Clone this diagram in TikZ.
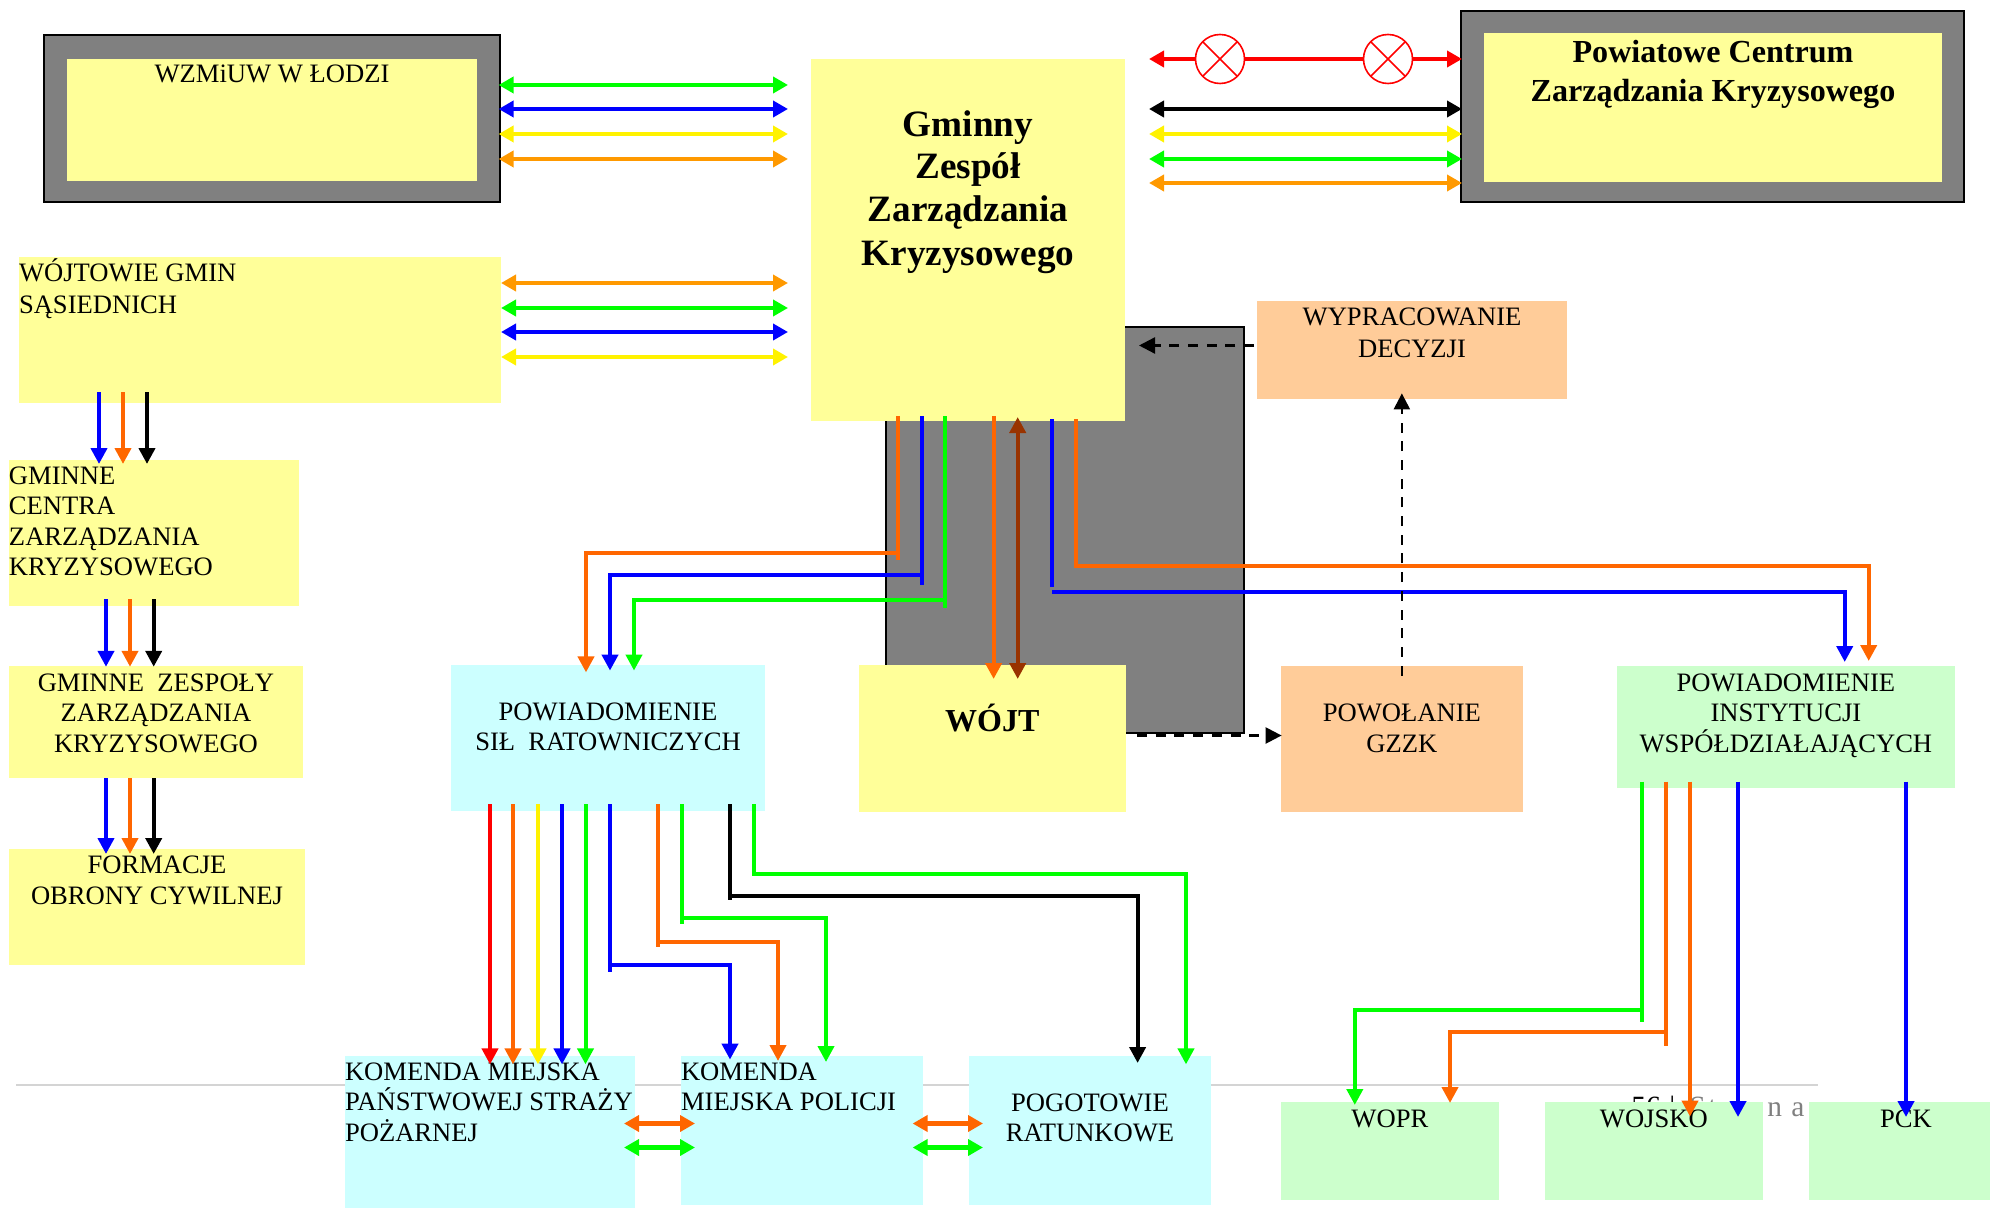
\documentclass[tikz,border=0pt]{standalone}
\usepackage{fontspec}
\setmainfont{Liberation Serif}
\usetikzlibrary{arrows.meta}
\definecolor{cY}{HTML}{FFFF99}
\definecolor{cC}{HTML}{CCFFFF}
\definecolor{cG}{HTML}{CCFFCC}
\definecolor{cP}{HTML}{FFCC99}
\definecolor{cF}{HTML}{808080}
\definecolor{cO}{HTML}{FF9900}
\definecolor{cD}{HTML}{FF6600}
\definecolor{cB}{HTML}{993300}
\definecolor{cL}{HTML}{D4D4D4}
\newcommand{\nrm}[1]{\fontsize{13.3pt}{#1pt}\selectfont}
\newcommand{\bld}[2]{\bfseries\fontsize{#1pt}{#2pt}\selectfont}
% name, x1, y1, x2, y2, fill, first baseline y, format, text
\newcommand{\bx}[9]{%
  \pgfmathsetlengthmacro{\bw}{(#4-#2)*0.5pt}%
  \pgfmathsetlengthmacro{\bh}{(#5-#3)*0.5pt}%
  \pgfmathsetlengthmacro{\bt}{(#7-#3)*0.5pt}%
  \node[anchor=north west,inner sep=0pt,outer sep=0pt,fill=#6] (#1) at (#2,#3) {%
    \vbox to \bh{\hsize=\bw\parindent=0pt\parskip=0pt #8\lineskiplimit=-\maxdimen
      \vskip\dimexpr\bt-\baselineskip\relax\prevdepth=0pt
      #9\par\vfil}};}
\newcommand{\frm}[5]{%
  \pgfmathsetlengthmacro{\bw}{(#4-#2)*0.5pt}%
  \pgfmathsetlengthmacro{\bh}{(#5-#3)*0.5pt}%
  \node[anchor=north west,inner sep=0pt,outer sep=0pt,draw=black,line width=1pt,fill=cF,minimum width=\bw,minimum height=\bh] (#1) at (#2,#3) {};}
\tikzset{
  x=0.5pt,y=-0.5pt,
  dbl/.style={line width=2.4pt,{Triangle[width=8pt,length=7.5pt]}-{Triangle[width=8pt,length=7.5pt]}},
  wire/.style={line width=2pt,-{Triangle[width=8pt,length=8pt]}},
  plain/.style={line width=2pt},
  dsh/.style={line width=1.2pt,dash pattern=on 5pt off 4.35pt,-{Triangle[width=8pt,length=8pt]}},
  lamp/.style={circle,draw=red,fill=white,line width=0.8pt,minimum size=24.5pt,inner sep=0pt,outer sep=0pt},
}
\begin{document}
\begin{tikzpicture}
\useasboundingbox (0,0) rectangle (1990,1208);
% rule and page number behind the boxes
\draw[cL,line width=1pt] (16,1084.5) -- (1818,1084.5);
\node[anchor=base west,inner sep=0pt,text=cF,font=\fontsize{14.7pt}{16pt}\selectfont] (pg) at (1631,1116.5) {\rlap{\textcolor{black}{56}}\kern19pt\rlap{\textcolor{black}{|}}\kern10pt\rlap{S}\kern9.5pt\rlap{t}\kern9pt\rlap{r}\kern9.5pt\rlap{o}\kern11pt\rlap{n}\kern12pt a};
% frames
\frm{wzmO}{44.4}{34.7}{499.6}{202}
\frm{pcoO}{1461}{11.3}{1964.3}{202}
\frm{gr}{885.6}{326.7}{1244}{733}
% boxes
\bx{wzm}{67}{59}{477}{181}{cY}{83}{\nrm{15.3}\centering}{WZMiUW W ŁODZI}
\bx{pco}{1484}{33}{1942}{182}{cY}{63}{\bld{16.05}{19.2}\centering}{Powiatowe Centrum\\Zarządzania Kryzysowego}
\bx{gz}{811}{59}{1125}{420.6}{cY}{136}{\bld{18.6}{21.5}\centering}{Gminny\\Zespół\\Zarządzania\\Kryzysowego}
\bx{woj}{19}{257}{501}{403}{cY}{281}{\nrm{16}\raggedright}{WÓJTOWIE GMIN\\SĄSIEDNICH}
\bx{cen}{9}{460}{299}{605.8}{cY}{484.5}{\nrm{15.2}\raggedright}{GMINNE\\CENTRA\\ZARZĄDZANIA\\KRYZYSOWEGO}
\bx{zes}{9}{666}{303}{778}{cY}{691}{\nrm{15.3}\centering}{GMINNE\ \ ZESPOŁY\\ZARZĄDZANIA\\KRYZYSOWEGO}
\bx{for}{9}{849}{305}{965}{cY}{873}{\nrm{15.5}\centering}{FORMACJE\\OBRONY CYWILNEJ}
\bx{sil}{451}{665}{765}{810.5}{cC}{720}{\nrm{15.4}\centering}{POWIADOMIENIE\\SIŁ\ \ RATOWNICZYCH}
\bx{wjt}{859}{665}{1125.6}{811.7}{cY}{731.8}{\bld{16}{19}\centering}{WÓJT}
\bx{wyp}{1257}{301}{1567}{399}{cP}{325.5}{\nrm{16}\centering}{WYPRACOWANIE\\DECYZJI}
\bx{pow}{1281}{666}{1522.7}{811.7}{cP}{721.5}{\nrm{15.4}\centering}{POWOŁANIE\\GZZK}
\bx{ins}{1616.8}{666}{1955}{788}{cG}{691}{\nrm{15.3}\centering}{POWIADOMIENIE\\INSTYTUCJI\\WSPÓŁDZIAŁAJĄCYCH}
\bx{psp}{345}{1056}{634.6}{1208}{cC}{1080}{\nrm{15.3}\raggedright}{KOMENDA MIEJSKA\\PAŃSTWOWEJ STRAŻY\\POŻARNEJ}
\bx{pol}{681}{1056}{923}{1205}{cC}{1080}{\nrm{15.3}\raggedright}{KOMENDA\\MIEJSKA POLICJI}
\bx{pog}{969}{1056}{1211}{1205}{cC}{1111}{\nrm{15.1}\centering}{POGOTOWIE\\RATUNKOWE}
\bx{wpr}{1281}{1102}{1498.7}{1200}{cG}{1127}{\nrm{15.3}\centering}{WOPR}
\bx{wsk}{1545}{1102}{1762.7}{1200}{cG}{1127}{\nrm{15.3}\centering}{WOJSKO}
\bx{pck}{1809}{1102}{2003}{1200}{cG}{1127}{\nrm{15.3}\centering}{PCK}
% double arrows: WZMiUW -- Gminny
\foreach \yy/\cc in {85/green,109/blue,134/yellow,159/cO}
  \draw[dbl,\cc,shorten <=-0.5pt,shorten >=11.5pt] (wzmO.east |- 0,\yy) -- (gz.west |- 0,\yy);
% double arrows: Wojtowie -- Gminny
\foreach \yy/\cc in {283/cO,308/green,332/blue,357/yellow}
  \draw[dbl,\cc,shorten >=11.5pt] (woj.east |- 0,\yy) -- (gz.west |- 0,\yy);
% double arrows: Gminny -- Powiatowe
\foreach \yy/\cc in {109/black,134/yellow,159/green,183/cO}
  \draw[dbl,\cc,shorten <=12pt,shorten >=-0.5pt] (gz.east |- 0,\yy) -- (pcoO.west |- 0,\yy);
% red line with lamps
\node[lamp] (la) at (1220,59) {};
\node[lamp] (lb) at (1388,59) {};
\draw[line width=2.4pt,red,{Triangle[width=8pt,length=7.5pt]}-,shorten <=12pt] (gz.east |- la) -- (la.west);
\draw[line width=2.4pt,red] (la.east) -- (lb.west);
\draw[line width=2.4pt,red,-{Triangle[width=8pt,length=7.5pt]},shorten >=-0.5pt] (lb.east) -- (pcoO.west |- lb);
\draw[red,line width=0.8pt] (la.45) -- (la.225) (la.135) -- (la.315) (lb.45) -- (lb.225) (lb.135) -- (lb.315);
% left column
\foreach \xx/\cc in {99/blue,123/cD,147/black}
  \draw[wire,\cc,shorten <=-5.5pt,shorten >=-2pt] (\xx,0 |- woj.south) -- (\xx,0 |- cen.north);
\foreach \xx/\cc in {106/blue,130/cD,153.7/black} {
  \draw[wire,\cc,shorten <=-3.4pt,shorten >=-0.4pt] (\xx,0 |- cen.south) -- (\xx,0 |- zes.north);
  \draw[wire,\cc,shorten >=-2.5pt] (\xx,0 |- zes.south) -- (\xx,0 |- for.north);
}
% Gminny -> Powiadomienie sil
\coordinate (j1) at (898,552.6);
\coordinate (j2) at (922,575);
\coordinate (j3) at (945,600);
\draw[plain,cD,shorten <=-2.3pt] (898,0 |- gz.south) -- (898,560);
\draw[wire,cD,shorten >=-3.7pt] (j1) -- (586,552.6) -- (586,0 |- sil.north);
\draw[plain,blue,shorten <=-2.3pt] (922,0 |- gz.south) -- (922,585);
\draw[wire,blue,shorten >=-2.8pt] (j2) -- (610,575) -- (610,0 |- sil.north);
\draw[plain,green,shorten <=-2.3pt] (945,0 |- gz.south) -- (945,607.6);
\draw[wire,green,shorten >=-2.8pt] (j3) -- (634,600) -- (634,0 |- sil.north);
% Gminny <-> Wojt
\draw[wire,cD,shorten <=-2.3pt,shorten >=-7pt] (993.6,0 |- gz.south) -- (993.6,0 |- wjt.north);
\draw[line width=2pt,cB,{Triangle[width=8pt,length=8pt]}-{Triangle[width=8pt,length=8pt]},shorten <=-1.8pt,shorten >=-7pt] (1017.7,0 |- gz.south) -- (1017.7,0 |- wjt.north);
% Gminny -> Instytucje
\coordinate (j4) at (1052.4,592);
\coordinate (j5) at (1076.4,566.4);
\draw[plain,blue,shorten <=-0.8pt] (1052.4,0 |- gz.south) -- (1052.4,587);
\draw[wire,blue,shorten >=2pt] (j4) -- (1844.7,592) -- (1844.7,0 |- ins.north);
\draw[wire,cD,shorten <=-0.8pt,shorten >=2.5pt] (1076.4,0 |- gz.south) -- (j5) -- (1868.7,566.4) -- (1868.7,0 |- ins.north);
% dashed
\draw[dsh,black,shorten <=1.5pt,shorten >=7pt] (wyp.west |- 0,345.5) -- (gz.east |- 0,345.5);
\draw[dsh,black,shorten <=-4.8pt,shorten >=-2.8pt] (pow.north) -- (wyp.south -| pow.north);
\draw[dsh,black,shorten <=5.7pt,shorten >=-0.3pt] (wjt.east |- 0,735.5) -- (pow.west |- 0,735.5);
% Sil -> Komendy
\foreach \xx/\cc in {490/red,513/cD,538/yellow,562/blue,585.5/green}
  \draw[wire,\cc,shorten <=-3.2pt,shorten >=-4.2pt] (\xx,0 |- sil.south) -- (\xx,0 |- psp.north);
\draw[plain,blue,shorten <=-3.2pt] (610,0 |- sil.south) -- (610,971.5);
\draw[wire,blue,shorten >=-1.8pt] (610,964.5) -- (730,964.5) -- (730,0 |- pol.north);
\draw[plain,cD,shorten <=-3.2pt] (658,0 |- sil.south) -- (658,947.4);
\draw[wire,cD,shorten >=-2.5pt] (658,942) -- (778,942) -- (778,0 |- pol.north);
\draw[plain,green,shorten <=-3.2pt] (682.4,0 |- sil.south) -- (682.4,923.8);
\draw[wire,green,shorten >=-3pt] (682.4,918.3) -- (826,918.3) -- (826,0 |- pol.north);
\draw[plain,black,shorten <=-3.2pt] (730,0 |- sil.south) -- (730,899.7);
\draw[wire,black,shorten >=-3.5pt] (730,896) -- (1137.6,896) -- (1137.6,0 |- pog.north);
\draw[wire,green,shorten <=-3.2pt,shorten >=-4.2pt] (754,0 |- sil.south) -- (754,874) -- (1186,874) -- (1186,0 |- pog.north);
% between komendy
\draw[dbl,cD,shorten <=-5.3pt,shorten >=-7pt] (psp.east |- 0,1123.5) -- (pol.west |- 0,1123.5);
\draw[dbl,green,shorten <=-5.3pt,shorten >=-7pt] (psp.east |- 0,1147.5) -- (pol.west |- 0,1147.5);
\draw[dbl,cD,shorten <=-5.2pt,shorten >=-7pt] (pol.east |- 0,1123.5) -- (pog.west |- 0,1123.5);
\draw[dbl,green,shorten <=-5.2pt,shorten >=-7pt] (pol.east |- 0,1147.5) -- (pog.west |- 0,1147.5);
% Instytucje -> WOPR, WOJSKO, PCK
\draw[plain,green,shorten <=-3.2pt] (1642,0 |- ins.south) -- (1642,1021.5);
\draw[wire,green,shorten >=-1.5pt] (1642,1010) -- (1354.8,1010) -- (1354.8,0 |- wpr.north);
\draw[plain,cD,shorten <=-3.2pt] (1666,0 |- ins.south) -- (1666,1046);
\draw[wire,cD,shorten >=-0.5pt] (1666,1032) -- (1450,1032) -- (1450,0 |- wpr.north);
\draw[wire,cD,shorten <=-3.2pt,shorten >=-7.3pt] (1690,0 |- ins.south) -- (1690,0 |- wsk.north);
\draw[wire,blue,shorten <=-3.2pt,shorten >=-7.5pt] (1738,0 |- ins.south) -- (1738,0 |- wsk.north);
\draw[wire,blue,shorten <=-3.2pt,shorten >=-7.5pt] (1906,0 |- ins.south) -- (1906,0 |- pck.north);
\end{tikzpicture}
\end{document}
